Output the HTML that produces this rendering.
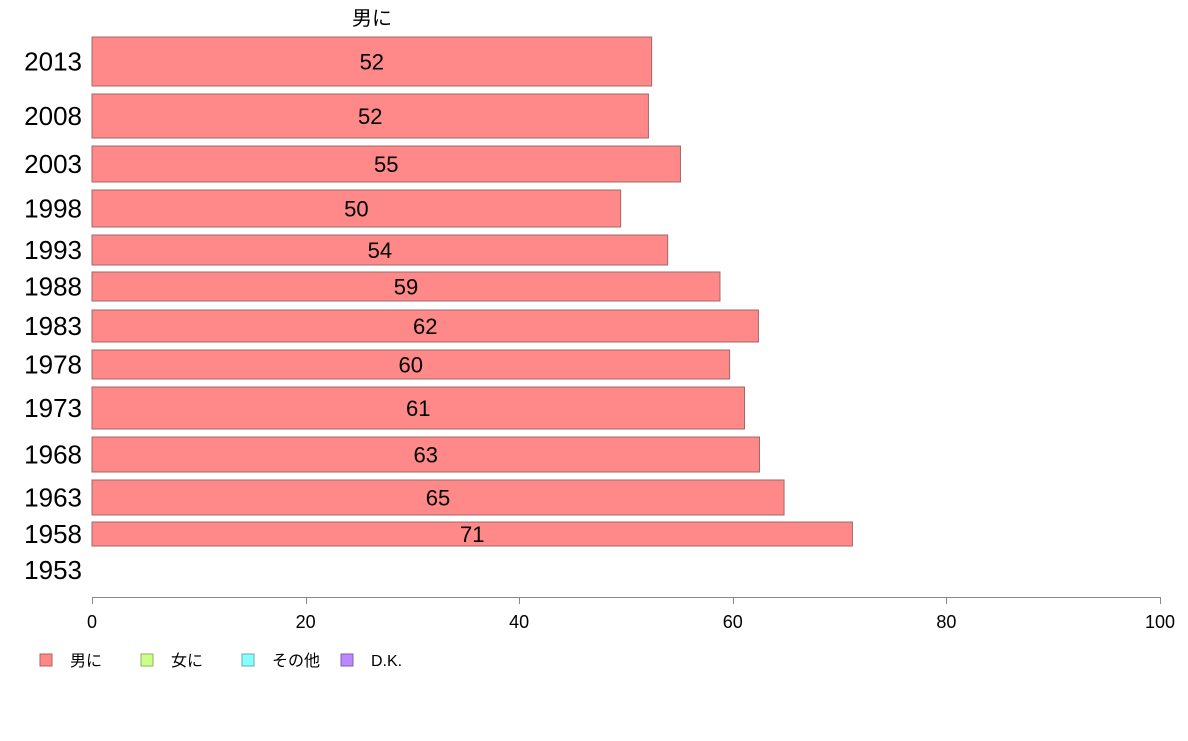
<!DOCTYPE html>
<html><head><meta charset="utf-8"><style>
body{margin:0;background:#fff;}
svg text{font-family:"Liberation Sans","Noto Sans CJK JP",sans-serif;}
</style></head><body>
<svg width="1188" height="736" id="c" xmlns="http://www.w3.org/2000/svg">
<text x="372" y="25" font-size="20" text-anchor="middle">男に</text>
<g id="bars"></g>
<g id="axis"></g>
<g>
<rect x="40" y="654" width="12" height="12" fill="#ff8888" stroke="#b06060"/>
<text x="70" y="666" font-size="16">男に</text>
<rect x="141" y="654" width="12" height="12" fill="#ccff88" stroke="#90b060"/>
<text x="171" y="666" font-size="16">女に</text>
<rect x="242" y="654" width="12" height="12" fill="#88ffff" stroke="#60b0b0"/>
<text x="272" y="666" font-size="16">その他</text>
<rect x="341" y="654" width="12" height="12" fill="#bb88ff" stroke="#8060b0"/>
<text x="371" y="666" font-size="16">D.K.</text>
</g>
</svg>
<script>
const categories=["2013","2008","2003","1998","1993","1988","1983","1978","1973","1968","1963","1958","1953"];
const values=[52.4,52.1,55.1,49.5,53.9,58.8,62.4,59.7,61.1,62.5,64.8,71.2,null];
const tickLabels=[0,20,40,60,80,100];
// layout (pixel rows per category)
const rowTop=[37,94,146,190,235,272,310,350,387,437,480,522,558];
const rowBot=[86,138,182,227,265,301,342,379,429,472,515,546,582];
const x0=92,x1=1160,axisY=597;
function xs(v){return x0+(v/100)*(x1-x0);}
const NS="http://www.w3.org/2000/svg";
const bars=document.getElementById('bars'),axis=document.getElementById('axis');
function mk(t,a,p){const e=document.createElementNS(NS,t);for(const k in a)e.setAttribute(k,a[k]);p.appendChild(e);return e;}
categories.forEach((c,i)=>{
 const mid=(rowTop[i]+rowBot[i])/2;
 const lab=mk('text',{x:82,y:mid+9,'font-size':26,'text-anchor':'end'},bars);
 lab.textContent=c;
 
 
 const v=values[i];
 if(v==null)return;
 const r=mk('rect',{x:x0,y:rowTop[i],width:xs(v)-x0,height:rowBot[i]-rowTop[i],fill:'#ff8888',stroke:'#a06868','stroke-width':1},bars);
 
 
 const t=mk('text',{x:(x0+xs(v))/2,y:mid+8,'font-size':22,'text-anchor':'middle'},bars);
 t.textContent=Math.round(v);
 
 
});
const al=mk('line',{x1:x0,x2:x1,y1:axisY+.5,y2:axisY+.5,stroke:'#888'},axis);


tickLabels.forEach(v=>{
 const x=Math.round(xs(v))+.5;
 const tk=mk('line',{x1:x,x2:x,y1:axisY,y2:axisY+7,stroke:'#888'},axis);
 
 
 const t=mk('text',{x:xs(v),y:628,'font-size':18,'text-anchor':'middle'},axis);
 t.textContent=v;
 
 
});
</script>
</body></html>
